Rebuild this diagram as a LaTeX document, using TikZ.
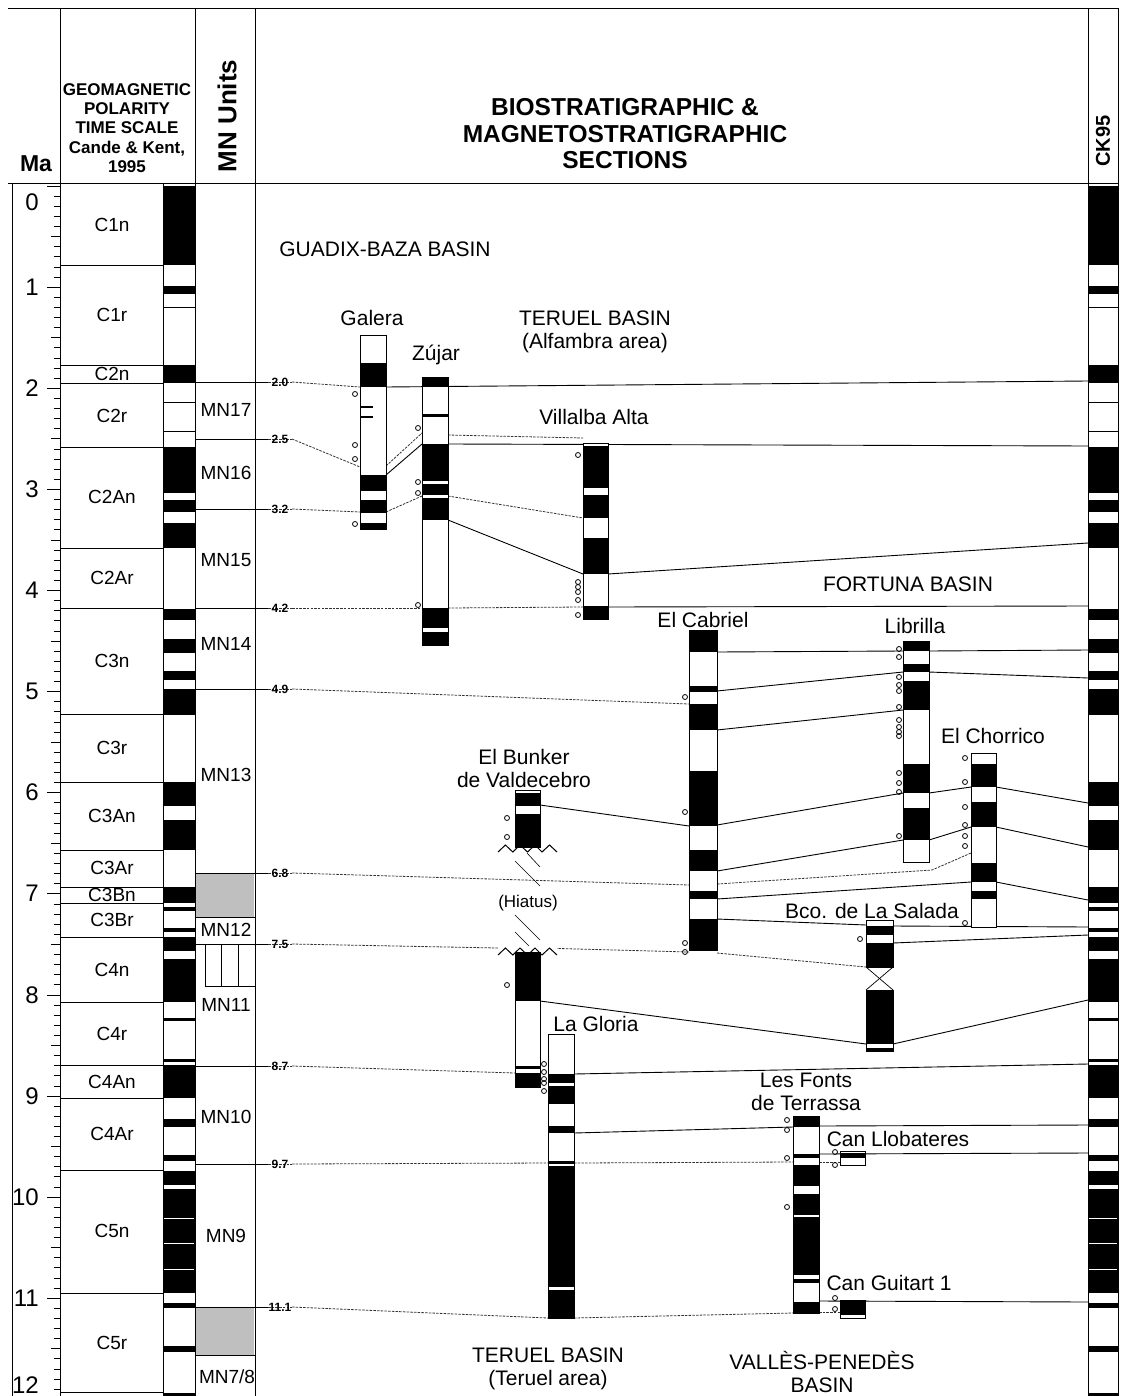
\documentclass[tikz,border=0pt]{standalone}
\usepackage{fontspec}
\setmainfont{Liberation Sans}
\newcommand{\seccol}[5]{%
  \fill[white] (#1,#3) rectangle (#2,#4);
  \foreach \a/\b in {#5} {\fill[black] (#1,\a) rectangle (#2,\b);}
  \draw[line width=0.7pt] (#1,#3) rectangle (#2,#4);
}
\newcommand{\samps}[2]{\foreach \sy in {#2} {\draw[line width=0.8pt] (#1,\sy) circle[radius=2.5];}}
\begin{document}
\begin{tikzpicture}[x=1pt,y=-1pt,
  frame/.style={line width=0.8pt},
  thinl/.style={line width=0.6pt},
  cor/.style={line width=0.9pt},
  dotl/.style={line width=0.8pt, dash pattern=on 2.5pt off 1.2pt, black!80},
  lab/.style={font=\fontsize{21}{23}\selectfont, inner sep=0, align=center},
  chr/.style={font=\fontsize{19}{22}\selectfont, inner sep=0},
  numl/.style={font=\fontsize{24}{26}\selectfont, inner sep=0, anchor=east},
  bl/.style={font=\bfseries\fontsize{12}{13}\selectfont, inner sep=0}]
\useasboundingbox (0,0) rectangle (1120,1396);
\fill[white] (0,0) rectangle (1120,1396);
% ---------- frame ----------
\draw[frame] (8,8) -- (1118,8);
\draw[frame] (8,183) -- (1118,183);
\foreach \xx in {60,195,255,1088,1118} \draw[frame] (\xx,8) -- (\xx,1396);
\draw[frame] (163,183) -- (163,1396);
\draw[frame] (12,183) -- (12,1396);
% ---------- header texts ----------
\node[font=\bfseries\fontsize{23}{25}\selectfont, inner sep=0] (hMa) at (36,164) {Ma};
\node[font=\bfseries\fontsize{17}{19.3}\selectfont, inner sep=0, align=center] (hgpts) at (127,128)
  {GEOMAGNETIC\\POLARITY\\TIME SCALE\\Cande \& Kent,\\1995};
\node[font=\bfseries\fontsize{26}{28}\selectfont, inner sep=0, rotate=90] (hmn) at (227,116) {MN Units};
\node[font=\bfseries\fontsize{24.5}{26.5}\selectfont, inner sep=0, align=center] (htitle) at (625,134)
  {BIOSTRATIGRAPHIC \&\\MAGNETOSTRATIGRAPHIC\\SECTIONS};
\node[font=\bfseries\fontsize{20}{22}\selectfont, inner sep=0, rotate=90] (hck) at (1103,141) {CK95};
% ---------- Ma axis ----------
\foreach \i in {0,...,120} \draw[thinl] (54,{186+10.11*\i}) -- (60,{186+10.11*\i});
\foreach \i in {5,15,...,115} \draw[thinl] (51,{186+10.11*\i}) -- (60,{186+10.11*\i});
\foreach \i in {0,...,12} \draw[thinl] (47,{186+101.1*\i}) -- (60,{186+101.1*\i});
\node[numl] (ma0) at (39,202) {0};
\foreach \n in {1,...,11} \node[numl] (ma\n) at (39,{186+101.1*\n}) {\n};
\node[numl] (ma12) at (39,1385) {12};
% ---------- polarity bars (GPTS and CK95) ----------
\foreach \a/\b in {0/0.78, 0.99/1.07, 1.201/1.211, 1.77/1.95, 2.14/2.15, 2.425/2.435,
  2.581/3.04, 3.11/3.22, 3.33/3.58, 4.18/4.29, 4.48/4.62, 4.80/4.89, 4.98/5.23,
  5.894/6.137, 6.269/6.567, 6.935/7.091, 7.135/7.17, 7.341/7.375, 7.432/7.562,
  7.65/8.072, 8.225/8.257, 8.63/8.66, 8.699/9.025, 9.23/9.308, 9.58/9.642,
  9.74/9.88, 9.92/10.949, 11.052/11.099, 11.476/11.531, 11.935/12.1} {
  \fill[black] (163,{186+101.1*\a}) rectangle (195,{186+101.1*\b});
  \fill[black] (1088,{186+101.1*\a}) rectangle (1118,{186+101.1*\b});
}
\foreach \a in {10.21,10.46,10.72} {
  \draw[white, line width=1.2pt] (164,{186+101.1*\a}) -- (194,{186+101.1*\a});
  \draw[white, line width=1.2pt] (1089,{186+101.1*\a}) -- (1117,{186+101.1*\a});
}
% chron boundaries
\foreach \a in {0.78,1.77,1.95,2.581,3.58,4.18,5.23,5.894,6.567,6.935,7.091,7.432,8.072,8.699,9.025,9.74,10.949,11.935}
  \draw[thinl] (60,{186+101.1*\a}) -- (163,{186+101.1*\a});
% chron labels
\foreach \a/\t in {0.39/C1n, 1.275/C1r, 1.86/C2n, 2.27/C2r, 3.08/C2An, 3.88/C2Ar, 4.7/C3n,
  5.56/C3r, 6.23/C3An, 6.75/C3Ar, 7.01/C3Bn, 7.26/C3Br, 7.75/C4n, 8.39/C4r, 8.86/C4An,
  9.38/C4Ar, 10.34/C5n, 11.44/C5r}
  \node[chr] (chr\t) at (112,{186+101.1*\a}) {\t};
% ---------- MN units column ----------
\fill[gray!50] (196,873) rectangle (254,917);
\fill[gray!50] (196,1307) rectangle (254,1355);
\draw[thinl] (195,917) -- (255,917);
\draw[thinl] (195,1355) -- (255,1355);
\foreach \xx in {205,221,238} \draw[thinl] (\xx,944) -- (\xx,986);
\draw[thinl] (205,986) -- (255,986);
\node[chr] (mn17) at (226,410) {MN17};
\node[chr] (mn16) at (226,473) {MN16};
\node[chr] (mn15) at (226,560) {MN15};
\node[chr] (mn14) at (226,644) {MN14};
\node[chr] (mn13) at (226,775) {MN13};
\node[chr] (mn12) at (226,930) {MN12};
\node[chr] (mn11) at (226,1005) {MN11};
\node[chr] (mn10) at (226,1117) {MN10};
\node[chr] (mn9) at (226,1236) {MN9};
\node[chr] (mn78) at (227,1377) {MN7/8};
\foreach \yy/\t [count=\k] in {382/2.0, 439/2.5, 509/3.2, 608/4.2, 689/4.9, 873/6.8, 944/7.5, 1066/8.7, 1164/9.7, 1307/11.1} {
  \draw[thinl] (195,\yy) -- (268,\yy);
  \draw[dotl] (268,\yy) -- (292,\yy);
  \node[bl] (mnb\k) at (280,\yy) {\t};
}
% ---------- correlation lines ----------
% 2.0
\draw[dotl] (292,382) -- (360,387);
\draw[cor] (386,387) -- (1088,381);
% 2.5
\draw[dotl] (292,439) -- (360,467);
\draw[dotl] (386,466) -- (422,433);
\draw[cor] (386,475) -- (422,444);
\draw[dotl] (448,435) -- (583,438);
\draw[cor] (448,444) -- (1088,446);
% 3.2
\draw[dotl] (292,509) -- (360,512);
\draw[dotl] (386,512) -- (422,496);
\draw[dotl] (448,496) -- (583,518);
\draw[cor] (448,520) -- (583,574);
\draw[cor] (608,574) -- (1088,543);
% 4.2
\draw[dotl] (292,608) -- (422,608);
\draw[dotl] (448,608) -- (583,607);
\draw[cor] (608,607) -- (1088,606);
% Fortuna / Cabriel
\draw[cor] (717,652) -- (903,651);
\draw[cor] (929,651) -- (1088,650);
\draw[cor] (717,691) -- (903,672);
\draw[cor] (929,672) -- (1088,678);
\draw[cor] (717,730) -- (903,710);
\draw[dotl] (292,689) -- (689,704);
\draw[cor] (540,805) -- (689,826);
\draw[cor] (717,825) -- (903,793);
\draw[cor] (929,793) -- (971,787);
\draw[cor] (996,787) -- (1088,803);
\draw[cor] (717,871) -- (903,840);
\draw[cor] (929,840) -- (971,827);
\draw[cor] (996,827) -- (1088,847);
% 6.8
\draw[dotl] (292,873) -- (689,885);
\draw[dotl] (717,884) -- (932,870) -- (971,853);
\draw[cor] (717,899) -- (971,882);
\draw[cor] (996,882) -- (1088,900);
\draw[cor] (717,919) -- (866,925);
\draw[cor] (893,926) -- (1088,927);
% 7.5
\draw[dotl] (292,944) -- (498,948);
\draw[dotl] (540,948) -- (689,952);
\draw[dotl] (717,953) -- (866,967);
\draw[cor] (893,943) -- (1088,935);
\draw[cor] (540,1001) -- (866,1044);
\draw[cor] (893,1044) -- (1088,1000);
% 8.7
\draw[dotl] (292,1066) -- (515,1073);
\draw[cor] (574,1074) -- (1088,1064);
\draw[cor] (574,1133) -- (793,1127);
\draw[cor] (819,1126) -- (1088,1125);
\draw[cor] (819,1154) -- (1088,1153);
% 9.7
\draw[dotl] (292,1164) -- (548,1163);
\draw[dotl] (574,1163) -- (793,1162);
\draw[dotl] (819,1162) -- (840,1162);
% 11.1
\draw[dotl] (292,1307) -- (548,1318);
\draw[dotl] (574,1318) -- (793,1313);
\draw[dotl] (819,1312) -- (840,1312);
\draw[cor] (819,1301) -- (1088,1302);
% ---------- sections ----------
% Galera
\seccol{360}{386}{335}{529}{363/387, 475/491, 500/513, 523/529}
\draw[line width=1.5pt] (360,407) -- (373,407);
\draw[line width=1.5pt] (360,417) -- (373,417);
\samps{355}{394,445,459,524}
% Zujar
\seccol{422}{448}{377}{645}{377/387, 414/416.5, 444/481, 484/495, 498/520, 608/628, 632/645}
\samps{418}{428,482,493,605}
% Villalba Alta
\seccol{583}{608}{443}{619}{446/488, 495/518, 538/574, 606/619}
\samps{578}{455,582,587,592,600,615}
% El Cabriel
\seccol{689}{717}{630}{950}{630/652, 686/692, 704/730, 771/826, 850/871, 891/899, 919/950}
\samps{685}{697,812,943,952}
% Librilla
\seccol{903}{929}{641}{862}{641/651, 664/672, 681/710, 764/793, 808/840}
\samps{899}{649,657,677,685,691,707,720,727,732,736,773,783,792,836}
% El Chorrico
\seccol{971}{996}{753}{927}{764/787, 802/827, 863/882, 891/899}
\samps{965}{758,782,807,825,836,846,923}
% Bco. de La Salada
\seccol{866}{893}{920}{967}{926/935, 943/967}
\seccol{866}{893}{990}{1051}{990/1044, 1048/1051}
\draw[line width=0.7pt] (866,967) -- (893,990);
\draw[line width=0.7pt] (893,967) -- (866,990);
\samps{860}{939}
% El Bunker de Valdecebro (upper)
\fill[white] (515,790) rectangle (540,848);
\fill[black] (515,793) rectangle (540,806);
\fill[black] (515,814) rectangle (540,848);
\draw[line width=0.7pt] (515,848) -- (515,790) -- (540,790) -- (540,848);
\draw[line width=1pt] (498,852) -- (505.4,845) -- (512.8,852) -- (520,845) -- (527.5,852) -- (535,845) -- (542,852) -- (549.5,845) -- (557,852);
% hiatus
\draw[thinl] (527,853) -- (540,867);
\draw[thinl] (515,861) -- (540,886);
\draw[thinl] (515,915) -- (540,940);
\draw[thinl] (515,932) -- (530,947);
% El Bunker (lower)
\fill[white] (515,952) rectangle (540,1087);
\fill[black] (515,952) rectangle (540,1001);
\fill[black] (515,1066) rectangle (540,1069);
\fill[black] (515,1073) rectangle (540,1087);
\draw[line width=0.7pt] (515,952) -- (515,1087) -- (540,1087) -- (540,952);
\fill[white] (498,946) rectangle (557,951);
\draw[line width=1pt] (498,955) -- (505.4,948) -- (512.8,955) -- (520,948) -- (527.5,955) -- (535,948) -- (542,955) -- (549.5,948) -- (557,955);
\samps{507}{818,837,985}
% La Gloria
\seccol{548}{574}{1034}{1318}{1074/1083, 1086/1104, 1126/1133, 1161/1163.5, 1166/1287, 1290/1318}
\samps{544}{1064,1072,1079,1083,1091}
% Les Fonts de Terrassa
\seccol{793}{819}{1116}{1313}{1116/1127, 1154/1158, 1165/1186, 1194/1215, 1217/1275, 1279/1283, 1302/1313}
\samps{787}{1120,1130,1158,1207}
% Can Llobateres
\seccol{840}{865}{1151}{1165}{1153/1158}
\samps{835}{1152,1165}
% Can Guitart 1
\seccol{840}{865}{1300}{1318}{1301/1315}
\samps{835}{1298,1309}
% ---------- labels ----------
\node[lab] (guadix) at (385,249) {GUADIX-BAZA BASIN};
\node[lab] (galera) at (372,318) {Galera};
\node[lab] (zujar) at (436,355) {Zújar};
\node[lab] (teruelA) at (595,332) {TERUEL BASIN\\(Alfambra area)};
\node[lab] (villalba) at (594,417) {Villalba Alta};
\node[lab] (fortuna) at (908,584) {FORTUNA BASIN};
\node[lab] (cabriel) at (703,620) {El Cabriel};
\node[lab] (librilla) at (915,626) {Librilla};
\node[lab] (chorrico) at (993,736) {El Chorrico};
\node[lab] (bunker) at (524,768) {El Bunker\\de Valdecebro};
\node[lab, font=\fontsize{17}{19}\selectfont] (hiatus) at (528,903) {(Hiatus)};
\node[lab] (salada) at (872,911) {Bco. de La Salada};
\node[lab] (gloria) at (596,1024) {La Gloria};
\node[lab] (fonts) at (806,1092) {Les Fonts\\de Terrassa};
\node[lab] (llob) at (898,1139) {Can Llobateres};
\node[lab] (guitart) at (889,1283) {Can Guitart 1};
\node[lab] (teruelT) at (548,1369) {TERUEL BASIN\\(Teruel area)};
\node[lab] (valles) at (822,1372) {VALLÈS-PENEDÈS\\BASIN};
\end{tikzpicture}
\end{document}
